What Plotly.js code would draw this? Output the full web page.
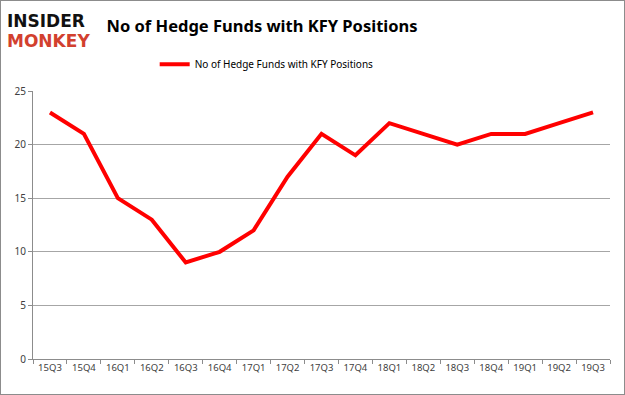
<!DOCTYPE html>
<html><head><meta charset="utf-8">
<script src="https://cdn.plot.ly/plotly-3.0.1.min.js"></script>
<style>html,body{margin:0;padding:0;background:#fff}#chart{width:623px;height:393px;border:1px solid #8c8c8c}</style>
</head><body><div id="chart"></div>
<script>
const quarters = ["15Q3","15Q4","16Q1","16Q2","16Q3","16Q4","17Q1","17Q2","17Q3","17Q4","18Q1","18Q2","18Q3","18Q4","19Q1","19Q2","19Q3"];
const hedgeFunds = [23,21,15,13,9,10,12,17,21,19,22,21,20,21,21,22,23];
const seriesName = "No of Hedge Funds with KFY Positions";
const yTicks = [0,5,10,15,20,25];

const trace = {x: quarters, y: hedgeFunds, type: "scatter", mode: "lines", name: seriesName,
  line: {color: "#ff0000", width: 4}};
const layout = {
  width: 623, height: 393,
  margin: {l: 32, r: 14, t: 90, b: 35},
  paper_bgcolor: "#fff", plot_bgcolor: "#fff",
  font: {family: "Noto Sans, sans-serif", size: 10, color: "#404040"},
  title: {text: "<b>No of Hedge Funds with KFY Positions</b>", x: 0.419, xanchor: "center", y: 0.935, yanchor: "middle",
    font: {family: "Noto Sans, sans-serif", size: 16.5, color: "#000"}},
  showlegend: true,
  legend: {orientation: "h", x: 0.405, xanchor: "center", y: 1.10, yanchor: "middle", font: {size: 10, color: "#000"}},
  xaxis: {type: "category", range: [-0.5, quarters.length - 0.5], tickson: "boundaries", ticks: "outside", ticklen: 4, tickcolor: "#8c8c8c",
    tickangle: 0, showline: true, linecolor: "#8c8c8c", showgrid: false, tickfont: {size: 9.5, color: "#404040"}},
  yaxis: {range: [0, 25], tickvals: yTicks, ticks: "outside", ticklen: 4, tickcolor: "#8c8c8c",
    showline: true, linecolor: "#8c8c8c", gridcolor: "#a6a6a6", zeroline: false, tickfont: {size: 10, color: "#404040"}},
  annotations: [
    {text: "<b>INSIDER</b>", xref: "paper", yref: "paper", x: -0.048, y: 1.26, xanchor: "left", yanchor: "middle", showarrow: false,
      font: {family: "DejaVu Sans, sans-serif", size: 17, color: "#111"}},
    {text: "<b>MONKEY</b>", xref: "paper", yref: "paper", x: -0.048, y: 1.185, xanchor: "left", yanchor: "middle", showarrow: false,
      font: {family: "DejaVu Sans, sans-serif", size: 17, color: "#d2402e"}}
  ]
};
Plotly.newPlot("chart", [trace], layout, {displayModeBar: false});
</script></body></html>
